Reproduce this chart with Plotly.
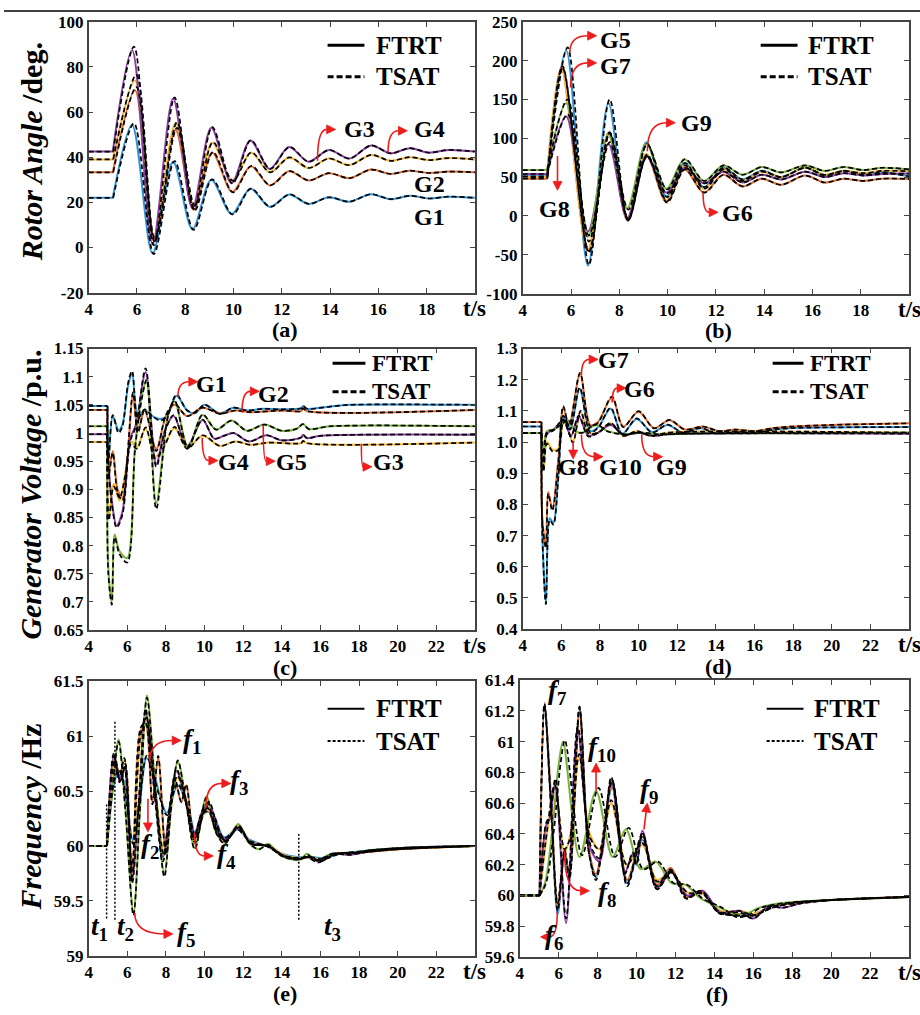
import plotly.graph_objects as go

# ======================= DATA =======================
# ---- (a) rotor angle, G1..G4 ----
t_a = [4, 5.0, 5.8, 6.65, 7.5, 8.3, 9.08, 9.92, 10.7, 11.5, 12.3, 13.1, 13.95, 14.8, 15.7, 16.5, 17.3, 18.1, 18.9, 20]
t_a2 = [4, 5.0, 5.92, 6.7, 7.6, 8.35, 9.12, 9.95, 10.72, 11.5, 12.3, 13.1, 13.95, 14.8, 15.7, 16.5, 17.3, 18.1, 18.9, 20]
t_a_ts = [4, 5.02, 5.88, 6.7, 7.56, 8.35, 9.12, 9.96, 10.72, 11.52, 12.32, 13.12, 13.95, 14.8, 15.7, 16.5, 17.3, 18.1, 18.9, 20]
t_a2_ts = [4, 5.02, 5.98, 6.74, 7.66, 8.4, 9.15, 9.98, 10.74, 11.52, 12.32, 13.12, 13.95, 14.8, 15.7, 16.5, 17.3, 18.1, 18.9, 20]
g1_a = [22, 22, 54.3, -2.6, 38, 8, 30, 14.8, 26, 18, 23.5, 19.3, 22.2, 20.3, 23.6, 21.4, 22.9, 21.7, 22.5, 22]
g2_a = [33.3, 33.3, 69.6, 2.9, 52, 16.7, 42, 24.6, 36, 27.5, 33.8, 29.7, 32.9, 30.7, 34.5, 32.6, 34, 33, 33.6, 33.3]
g3_a = [39, 39, 74, 4.3, 55, 18.8, 46.4, 29.7, 42, 33.3, 39.9, 35.2, 39.4, 36.5, 41, 38.4, 40, 38.7, 39.6, 39]
g4_a = [42.5, 42.5, 87.4, 1.5, 66, 17.4, 53, 28.5, 47.4, 34.8, 44.5, 38, 43.2, 39.4, 45.2, 41.7, 44, 42, 43.2, 42.5]
g1_a_ts = [22, 22, 55, -3, 38.3, 7.8, 30.2, 14.6, 26.1, 18, 23.5, 19.3, 22.2, 20.3, 23.6, 21.4, 22.9, 21.7, 22.5, 22]
g2_a_ts = [33.3, 33.3, 71, 2.5, 53, 16.4, 42.3, 24.4, 36.1, 27.5, 33.8, 29.7, 32.9, 30.7, 34.5, 32.6, 34, 33, 33.6, 33.3]
g3_a_ts = [39, 39, 76.5, 3.8, 55.5, 18.5, 46.6, 29.5, 42.1, 33.3, 39.9, 35.2, 39.4, 36.5, 41, 38.4, 40, 38.7, 39.6, 39]
g4_a_ts = [42.5, 42.5, 89, 1, 66.5, 17, 53.3, 28.3, 47.5, 34.8, 44.5, 38, 43.2, 39.4, 45.2, 41.7, 44, 42, 43.2, 42.5]

# ---- (b) rotor angle, G5..G9 ----
t_b = [4, 5.0, 5.8, 6.7, 7.55, 8.33, 9.12, 9.95, 10.7, 11.5, 12.3, 13.1, 13.9, 14.7, 15.7, 16.5, 17.3, 18.1, 18.9, 20]
t_b2 = [4, 5.0, 5.6, 6.7, 7.55, 8.33, 9.12, 9.95, 10.7, 11.5, 12.3, 13.1, 13.9, 14.7, 15.7, 16.5, 17.3, 18.1, 18.9, 20]
t_b_ts = [4, 5.02, 5.86, 6.74, 7.6, 8.37, 9.15, 9.98, 10.72, 11.52, 12.32, 13.1, 13.9, 14.7, 15.7, 16.5, 17.3, 18.1, 18.9, 20]
t_b2_ts = [4, 5.02, 5.65, 6.74, 7.6, 8.37, 9.15, 9.98, 10.72, 11.52, 12.32, 13.1, 13.9, 14.7, 15.7, 16.5, 17.3, 18.1, 18.9, 20]
g5_b = [51, 51, 213, -64, 145, -5, 95, 25, 68, 37, 62, 47, 58, 50, 62, 52, 58, 53, 56, 51]
g6_b = [48, 48, 191, -45, 107, -5, 78, 18, 60, 30, 53, 38, 48, 40, 52, 43, 48, 45, 48, 47.5]
g7_b = [50, 50, 189, -43, 105, -3, 80, 20, 65, 35, 60, 45, 57, 50, 62, 53, 58, 55, 58, 57.5]
g8_b = [54, 54, 128, -20, 93, -3, 77, 30, 62, 42, 57, 43, 53, 47, 57, 50, 55, 52, 54, 54.5]
g9_b = [59, 59, 145, -27, 105, 10, 93, 35, 73, 45, 65, 53, 63, 56, 65, 58, 63, 59, 62, 60]
g5_b_ts = [51, 51, 217, -63, 150, -6, 93, 24, 68, 37, 62, 47, 58, 50, 62, 52, 58, 53, 56, 51]
g6_b_ts = [48, 48, 193, -47, 108, -6, 77, 17, 60, 30, 53, 38, 48, 40, 52, 43, 48, 45, 48, 47.5]
g7_b_ts = [50, 50, 191, -45, 106, -4, 79, 19, 65, 35, 60, 45, 57, 50, 62, 53, 58, 55, 58, 57.5]
g8_b_ts = [54, 54, 131, -25, 95, -4, 76, 29, 62, 42, 57, 43, 53, 47, 57, 50, 55, 52, 54, 54.5]
g9_b_ts = [59, 59, 150, -33, 107, 8, 92, 34, 73, 45, 65, 53, 63, 56, 65, 58, 63, 59, 62, 60]

# ---- (c) generator voltage, G1..G5 ----
t_c1 = [4, 4.98, 5.02, 5.25, 5.55, 5.75, 6.05, 6.25, 6.55, 6.9, 7.3, 7.7, 8.05, 8.55, 9.1, 9.5, 10.0, 10.8, 11.5, 12.2, 13.0, 14.0, 15.0, 15.1, 15.3, 16.5, 17.5, 24]
g1_c = [1.048, 1.048, 0.948, 1.03, 1.005, 1.015, 1.085, 1.105, 1.03, 1.04, 1.03, 1.025, 1.03, 1.066, 1.04, 1.035, 1.05, 1.035, 1.045, 1.04, 1.043, 1.042, 1.044, 1.048, 1.043, 1.047, 1.05, 1.05]
g1_c_ts = [1.048, 1.048, 0.945, 1.032, 1.0, 1.012, 1.09, 1.11, 1.025, 1.042, 1.03, 1.022, 1.03, 1.068, 1.04, 1.036, 1.05, 1.034, 1.045, 1.04, 1.043, 1.042, 1.044, 1.048, 1.043, 1.047, 1.05, 1.05]
t_c2 = [4, 4.97, 5.02, 5.25, 5.5, 5.75, 6.0, 6.3, 6.55, 6.9, 7.5, 8.0, 8.45, 9.1, 9.9, 10.8, 11.6, 12.4, 14.0, 15.0, 15.1, 15.3, 24]
g2_c = [1.041, 1.041, 0.925, 0.968, 0.9, 0.885, 0.95, 1.068, 1.005, 1.04, 0.972, 1.03, 1.05, 1.03, 1.045, 1.035, 1.04, 1.037, 1.04, 1.039, 1.044, 1.039, 1.041]
g2_c_ts = [1.041, 1.041, 0.92, 0.965, 0.895, 0.88, 0.955, 1.072, 1.0, 1.042, 0.968, 1.032, 1.052, 1.03, 1.045, 1.034, 1.04, 1.037, 1.04, 1.039, 1.044, 1.039, 1.041]
t_c3 = [4, 4.97, 5.05, 5.3, 5.6, 5.9, 6.2, 6.5, 6.95, 7.45, 7.9, 8.45, 9.1, 9.9, 10.8, 11.6, 12.4, 13.3, 15.0, 15.1, 15.3, 24]
g3_c = [0.984, 0.984, 0.85, 0.91, 0.88, 0.93, 0.985, 0.975, 1.008, 0.958, 0.977, 1.009, 0.974, 0.995, 0.977, 0.985, 0.979, 0.983, 0.982, 0.986, 0.982, 0.983]
g3_c_ts = [0.984, 0.984, 0.845, 0.905, 0.885, 0.925, 0.98, 0.972, 1.01, 0.955, 0.975, 1.011, 0.972, 0.996, 0.977, 0.985, 0.979, 0.983, 0.982, 0.986, 0.982, 0.983]
t_c4 = [4, 4.97, 5.02, 5.2, 5.45, 5.75, 6.15, 6.45, 6.95, 7.5, 7.95, 8.4, 9.1, 9.9, 10.5, 11.0, 11.5, 12.3, 13.2, 14.0, 15.0, 15.1, 15.3, 16.0, 24]
g4_c = [0.998, 0.998, 0.95, 0.88, 0.835, 0.86, 0.99, 1.015, 1.108, 0.945, 1.005, 1.03, 0.977, 1.023, 0.99, 0.995, 1.0, 0.985, 0.996, 0.987, 0.992, 0.997, 0.991, 0.995, 0.997]
g4_c_ts = [0.998, 0.998, 0.945, 0.875, 0.832, 0.855, 0.985, 1.012, 1.115, 0.94, 1.003, 1.032, 0.975, 1.024, 0.99, 0.995, 1.0, 0.985, 0.996, 0.987, 0.992, 0.997, 0.991, 0.995, 0.997]
t_c5 = [4, 4.97, 5.02, 5.2, 5.35, 5.6, 6.0, 6.4, 6.75, 7.0, 7.5, 8.1, 8.45, 9.15, 9.9, 10.6, 11.4, 12.2, 13.1, 14.0, 14.8, 15.1, 15.4, 16.5, 24]
g5_c = [1.012, 1.012, 0.76, 0.70, 0.82, 0.79, 0.778, 0.975, 1.065, 1.092, 0.876, 1.03, 1.056, 0.975, 1.032, 1.006, 1.022, 1.004, 1.015, 1.004, 1.008, 1.016, 1.007, 1.012, 1.012]
g5_c_ts = [1.012, 1.012, 0.75, 0.695, 0.815, 0.785, 0.77, 0.97, 1.06, 1.095, 0.865, 1.028, 1.058, 0.973, 1.033, 1.006, 1.022, 1.004, 1.015, 1.004, 1.008, 1.016, 1.007, 1.012, 1.012]

# ---- (d) generator voltage, G6..G10 ----
t_d6 = [4, 4.97, 5.02, 5.2, 5.4, 5.58, 5.85, 6.1, 6.45, 6.95, 7.5, 7.93, 8.55, 9.15, 9.9, 10.7, 11.5, 12.3, 13.2, 14.0, 15.0, 16.0, 17.0, 18.0, 24]
g6_d = [1.05, 1.05, 0.7, 0.485, 0.756, 0.74, 0.9, 1.08, 1.045, 1.171, 1.035, 1.05, 1.107, 1.027, 1.074, 1.032, 1.055, 1.03, 1.045, 1.028, 1.032, 1.03, 1.04, 1.045, 1.048]
g6_d_ts = [1.05, 1.05, 0.69, 0.48, 0.75, 0.735, 0.89, 1.085, 1.04, 1.175, 1.03, 1.048, 1.11, 1.025, 1.076, 1.03, 1.056, 1.03, 1.045, 1.028, 1.032, 1.03, 1.04, 1.045, 1.048]
t_d7 = [4, 4.97, 5.02, 5.2, 5.32, 5.53, 5.85, 6.1, 6.4, 6.97, 7.5, 7.9, 8.62, 9.2, 10.0, 10.8, 11.6, 12.4, 13.3, 14.2, 15.0, 16.0, 17.0, 18.0, 20.0, 24]
g7_d = [1.064, 1.064, 0.75, 0.667, 0.84, 0.787, 0.95, 1.11, 1.055, 1.218, 1.055, 1.065, 1.143, 1.05, 1.097, 1.045, 1.07, 1.04, 1.05, 1.035, 1.04, 1.035, 1.045, 1.05, 1.055, 1.06]
g7_d_ts = [1.064, 1.064, 0.74, 0.66, 0.835, 0.78, 0.94, 1.115, 1.05, 1.222, 1.05, 1.062, 1.146, 1.048, 1.099, 1.044, 1.071, 1.04, 1.05, 1.035, 1.04, 1.035, 1.045, 1.05, 1.055, 1.06]
t_d8 = [4, 4.97, 5.08, 5.25, 5.55, 5.85, 6.1, 6.35, 6.6, 7.0, 7.4, 7.9, 8.55, 9.2, 9.9, 10.6, 11.5, 24]
g8_d = [1.029, 1.029, 0.912, 1.0, 0.975, 0.98, 1.07, 1.04, 1.0, 1.097, 1.03, 1.03, 1.06, 1.02, 1.035, 1.02, 1.03, 1.03]
g8_d_ts = [1.029, 1.029, 0.905, 0.995, 0.97, 0.975, 1.072, 1.038, 0.998, 1.1, 1.028, 1.03, 1.062, 1.02, 1.035, 1.02, 1.03, 1.03]
t_d9 = [4, 4.97, 5.05, 5.25, 5.6, 6.1, 6.5, 6.9, 7.4, 7.9, 8.55, 9.2, 10.0, 10.8, 11.5, 24]
g9_d = [1.029, 1.029, 0.93, 1.028, 1.04, 1.07, 1.02, 1.082, 1.02, 1.03, 1.055, 1.025, 1.03, 1.02, 1.025, 1.027]
g9_d_ts = [1.029, 1.029, 0.92, 1.025, 1.038, 1.072, 1.018, 1.085, 1.018, 1.03, 1.057, 1.024, 1.03, 1.02, 1.025, 1.027]
t_d10 = [4, 4.97, 5.05, 5.25, 5.6, 6.1, 6.35, 6.75, 7.1, 7.8, 8.4, 9.3, 10.2, 11.0, 13.0, 24]
g10_d = [1.029, 1.029, 0.925, 1.035, 1.04, 1.06, 1.07, 1.035, 1.03, 1.055, 1.035, 1.025, 1.03, 1.025, 1.028, 1.03]
g10_d_ts = [1.029, 1.029, 0.92, 1.032, 1.04, 1.062, 1.072, 1.033, 1.03, 1.057, 1.034, 1.025, 1.03, 1.025, 1.028, 1.03]

# ---- (e) frequency, f1..f5 ----
t_e1 = [4, 4.95, 5.3, 5.55, 5.8, 6.3, 6.65, 7.0, 7.4, 7.7, 8.05, 8.6, 9.15, 9.55, 10.0, 10.4, 11.0, 11.7, 12.3, 13.2, 14.0, 14.8, 15.5, 16.2, 17.0, 18.0, 20, 24]
f1_e = [60, 60, 60.55, 60.68, 60.6, 60.05, 60.4, 60.8, 60.65, 60.45, 60.3, 60.55, 60.35, 60.1, 60.3, 60.3, 60.08, 60.15, 60.06, 60.0, 59.93, 59.9, 59.9, 59.89, 59.93, 59.95, 59.98, 60]
f1_e_ts = [60, 60, 60.58, 60.7, 60.58, 60.02, 60.42, 60.82, 60.62, 60.43, 60.28, 60.57, 60.33, 60.08, 60.31, 60.3, 60.07, 60.15, 60.05, 60.0, 59.92, 59.89, 59.9, 59.88, 59.93, 59.95, 59.98, 60]
t_e2 = [4, 4.95, 5.35, 5.65, 5.9, 6.25, 6.7, 6.95, 7.3, 7.6, 8.0, 8.45, 8.8, 9.05, 9.5, 10.1, 10.7, 11.1, 11.75, 12.4, 13.3, 14.1, 14.8, 15.5, 16.0, 16.8, 18.0, 20, 24]
f2_e = [60, 60, 60.8, 60.6, 60.72, 59.75, 61.05, 61.1, 60.4, 60.8, 59.95, 60.6, 60.4, 60.55, 60.05, 60.35, 60.1, 60.05, 60.18, 60.03, 60.0, 59.92, 59.88, 59.9, 59.87, 59.93, 59.94, 59.97, 60]
f2_e_ts = [60, 60, 60.82, 60.58, 60.75, 59.72, 61.08, 61.12, 60.38, 60.82, 59.92, 60.62, 60.4, 60.56, 60.03, 60.36, 60.1, 60.04, 60.18, 60.02, 60.0, 59.91, 59.88, 59.9, 59.86, 59.93, 59.94, 59.97, 60]
t_e3 = [4, 4.95, 5.35, 5.6, 5.85, 6.25, 6.7, 7.0, 7.4, 7.9, 8.3, 8.6, 9.0, 9.45, 9.8, 10.2, 10.7, 11.1, 11.7, 12.4, 13.3, 14.1, 14.9, 15.4, 16.0, 16.8, 18.0, 20, 24]
f3_e = [60, 60, 60.75, 60.65, 60.78, 59.85, 61.0, 61.15, 60.6, 59.95, 60.45, 60.62, 60.45, 60.08, 60.25, 60.33, 60.12, 60.06, 60.17, 60.04, 60.0, 59.92, 59.89, 59.9, 59.88, 59.93, 59.94, 59.97, 60]
f3_e_ts = [60, 60, 60.77, 60.63, 60.8, 59.82, 61.02, 61.17, 60.58, 59.92, 60.46, 60.64, 60.44, 60.06, 60.26, 60.35, 60.12, 60.05, 60.17, 60.03, 60.0, 59.91, 59.89, 59.9, 59.87, 59.93, 59.94, 59.97, 60]
t_e4 = [4, 4.95, 5.3, 5.6, 5.85, 6.25, 6.6, 6.95, 7.35, 7.85, 8.2, 8.55, 9.0, 9.45, 9.9, 10.25, 10.7, 11.1, 11.8, 12.4, 13.3, 14.0, 14.8, 15.3, 15.9, 16.6, 17.5, 18.5, 20, 24]
f4_e = [60, 60, 60.82, 60.6, 60.7, 59.7, 60.4, 61.22, 60.6, 59.9, 60.35, 60.68, 60.45, 60.1, 60.32, 60.38, 60.15, 60.06, 60.17, 60.03, 60.0, 59.92, 59.88, 59.9, 59.86, 59.93, 59.92, 59.95, 59.98, 60]
f4_e_ts = [60, 60, 60.84, 60.58, 60.72, 59.66, 60.42, 61.25, 60.58, 59.86, 60.36, 60.7, 60.44, 60.08, 60.33, 60.4, 60.14, 60.05, 60.17, 60.02, 60.0, 59.91, 59.88, 59.9, 59.85, 59.93, 59.92, 59.95, 59.98, 60]
t_e5 = [4, 4.95, 5.2, 5.55, 5.9, 6.32, 6.65, 7.02, 7.45, 7.92, 8.25, 8.62, 9.05, 9.5, 10.1, 10.6, 11.05, 11.75, 12.3, 12.8, 13.3, 13.9, 14.5, 15.0, 15.3, 15.8, 16.6, 17.5, 18.5, 20, 24]
f5_e = [60, 60, 60.45, 60.97, 60.35, 59.39, 60.3, 61.37, 60.55, 59.75, 60.3, 60.77, 60.4, 59.98, 60.45, 60.12, 60.03, 60.2, 60.03, 59.97, 60.02, 59.92, 59.88, 59.88, 59.93, 59.87, 59.93, 59.93, 59.96, 59.98, 60]
f5_e_ts = [60, 60, 60.47, 60.95, 60.33, 59.37, 60.32, 61.35, 60.52, 59.72, 60.32, 60.78, 60.38, 59.97, 60.44, 60.12, 60.02, 60.19, 60.03, 59.97, 60.01, 59.92, 59.88, 59.88, 59.92, 59.87, 59.93, 59.93, 59.96, 59.98, 60]
# event instants t1, t2, t3 in (e)
t_events = [4.93, 5.36, 14.88]
t_events_top = [60.38, 61.13, 60.11]
t_events_bottom = [59.34, 59.33, 59.33]

# ---- (f) frequency, f6..f10 ----
t_f = [4, 5.02, 5.27, 5.6, 5.95, 6.3, 6.55, 7.07, 7.55, 7.92, 8.75, 9.52, 10.3, 11.05, 11.75, 12.55, 13.3, 14.2, 15.1, 16.0, 17.0, 18.0, 20, 24]
f6_f = [60, 60, 61.22, 60.6, 59.88, 60.25, 60.12, 61.2, 60.3, 60.12, 60.7, 60.08, 60.36, 60.05, 60.17, 59.99, 60.02, 59.9, 59.88, 59.88, 59.93, 59.95, 59.97, 59.99]
f7_f = [60, 60, 61.24, 60.65, 59.93, 60.28, 60.15, 61.18, 60.3, 60.14, 60.72, 60.1, 60.38, 60.07, 60.18, 59.99, 60.03, 59.9, 59.88, 59.88, 59.93, 59.95, 59.97, 59.99]
f6_f_ts = [60, 60, 61.24, 60.58, 59.9, 60.28, 60.1, 61.23, 60.28, 60.1, 60.74, 60.06, 60.38, 60.04, 60.16, 59.98, 60.02, 59.89, 59.87, 59.87, 59.92, 59.95, 59.97, 59.99]
f7_f_ts = [60, 60, 61.25, 60.63, 59.95, 60.3, 60.13, 61.22, 60.28, 60.12, 60.75, 60.08, 60.4, 60.06, 60.17, 59.98, 60.03, 59.89, 59.87, 59.87, 59.92, 59.95, 59.97, 59.99]
t_f8 = [4, 5.02, 5.4, 5.8, 6.3, 6.6, 7.05, 7.6, 8.1, 8.7, 9.5, 10.3, 11.05, 11.8, 12.6, 13.4, 14.3, 15.3, 16.0, 17.0, 18.5, 20, 24]
f8_f = [60, 60, 60.4, 60.7, 60.28, 60.4, 60.9, 60.4, 60.3, 60.6, 60.2, 60.33, 60.1, 60.15, 60.02, 60.01, 59.9, 59.9, 59.88, 59.93, 59.95, 59.97, 59.99]
f8_f_ts = [60, 60, 60.42, 60.72, 60.3, 60.38, 60.92, 60.38, 60.3, 60.62, 60.2, 60.34, 60.09, 60.15, 60.02, 60.01, 59.89, 59.9, 59.87, 59.93, 59.95, 59.97, 59.99]
t_f9 = [4, 5.02, 5.35, 5.55, 5.83, 6.38, 6.98, 7.65, 8.1, 8.7, 9.4, 9.8, 10.0, 10.3, 11.05, 11.8, 12.6, 13.4, 14.3, 15.3, 16.0, 16.8, 17.5, 18.5, 20, 24]
f9_f = [60, 60, 60.45, 60.5, 60.74, 59.82, 61.07, 60.3, 60.22, 60.75, 60.15, 60.27, 60.2, 60.42, 60.05, 60.15, 60.0, 60.03, 59.89, 59.9, 59.85, 59.93, 59.92, 59.95, 59.97, 59.99]
f9_f_ts = [60, 60, 60.47, 60.52, 60.76, 59.85, 61.1, 60.32, 60.24, 60.77, 60.14, 60.28, 60.2, 60.41, 60.04, 60.15, 59.99, 60.02, 59.88, 59.89, 59.85, 59.93, 59.92, 59.95, 59.97, 59.99]
t_f10 = [4, 5.02, 5.3, 5.65, 6.0, 6.22, 7.07, 7.92, 8.77, 9.45, 10.22, 10.98, 11.8, 12.5, 13.3, 14.3, 15.0, 15.6, 16.3, 17.5, 20, 24]
f10_f = [60, 60, 60.08, 60.4, 60.85, 61.0, 60.25, 60.68, 60.25, 60.43, 60.17, 60.22, 60.08, 60.07, 59.98, 59.92, 59.88, 59.88, 59.92, 59.95, 59.97, 59.99]
t_f10_ts = [4, 5.02, 5.35, 5.75, 6.1, 6.32, 7.2, 8.05, 8.9, 9.6, 10.35, 11.1, 11.9, 12.6, 13.4, 14.4, 15.1, 15.7, 16.4, 17.6, 20, 24]
f10_f_ts = [60, 60, 60.08, 60.42, 60.86, 61.01, 60.26, 60.7, 60.25, 60.44, 60.17, 60.22, 60.08, 60.07, 59.98, 59.92, 59.86, 59.87, 59.92, 59.95, 59.97, 59.99]

# ---- tick labels ----
xt_ab = [4, 6, 8, 10, 12, 14, 16, 18]
xt_cf = [4, 6, 8, 10, 12, 14, 16, 18, 20, 22]
yt_a = [-20, 0, 20, 40, 60, 80, 100]
yt_b = [-100, -50, 0, 50, 100, 150, 200, 250]
yt_c = [0.65, 0.7, 0.75, 0.8, 0.85, 0.9, 0.95, 1.0, 1.05, 1.1, 1.15]
ytt_c = ["0.65", "0.7", "0.75", "0.8", "0.85", "0.9", "0.95", "1", "1.05", "1.1", "1.15"]
yt_d = [0.4, 0.5, 0.6, 0.7, 0.8, 0.9, 1.0, 1.1, 1.2, 1.3]
ytt_d = ["0.4", "0.5", "0.6", "0.7", "0.8", "0.9", "1.0", "1.1", "1.2", "1.3"]
yt_e = [59, 59.5, 60, 60.5, 61, 61.5]
ytt_e = ["59", "59.5", "60", "60.5", "61", "61.5"]
yt_f = [59.6, 59.8, 60, 60.2, 60.4, 60.6, 60.8, 61, 61.2, 61.4]
ytt_f = ["59.6", "59.8", "60", "60.2", "60.4", "60.6", "60.8", "61", "61.2", "61.4"]

# ======================= STYLE / LAYOUT =======================
FONT = "Liberation Serif"
W, H = 920, 1015
BLUE, ORANGE, YELLOW, PURPLE, GREEN = "#2f93d4", "#de6b32", "#efb52e", "#8a3ea0", "#79b13a"
RED = "#ee1c1c"


def PX(x):
    return x / W


def PY(y):
    return 1 - y / H


PANELS = {
    'a': dict(n=1, x0=85, x1=473, y0=13, y1=289, xr=[4, 20], yr=[-20, 100], xt=xt_ab, yt=yt_a, ytt=[str(v) for v in yt_a]),
    'b': dict(n=2, x0=521, x1=909, y0=13, y1=290, xr=[4, 20], yr=[-100, 250], xt=xt_ab, yt=yt_b, ytt=[str(v) for v in yt_b]),
    'c': dict(n=3, x0=85, x1=473, y0=346, y1=633, xr=[4, 24], yr=[0.65, 1.15], xt=xt_cf, yt=yt_c, ytt=ytt_c),
    'd': dict(n=4, x0=521, x1=909, y0=346, y1=632, xr=[4, 24], yr=[0.4, 1.3], xt=xt_cf, yt=yt_d, ytt=ytt_d),
    'e': dict(n=5, x0=85, x1=473, y0=685, y1=965, xr=[4, 24], yr=[59, 61.5], xt=xt_cf, yt=yt_e, ytt=ytt_e),
    'f': dict(n=6, x0=518, x1=909, y0=684, y1=966, xr=[4, 24], yr=[59.6, 61.4], xt=xt_cf, yt=yt_f, ytt=ytt_f),
}


def sfx(key):
    n = PANELS[key]['n']
    return '' if n == 1 else str(n)


SERIES = [
    ('a', t_a, g1_a, t_a_ts, g1_a_ts, BLUE),
    ('a', t_a2, g2_a, t_a2_ts, g2_a_ts, ORANGE),
    ('a', t_a2, g3_a, t_a2_ts, g3_a_ts, YELLOW),
    ('a', t_a, g4_a, t_a_ts, g4_a_ts, PURPLE),
    ('b', t_b, g5_b, t_b_ts, g5_b_ts, BLUE),
    ('b', t_b2, g6_b, t_b2_ts, g6_b_ts, ORANGE),
    ('b', t_b2, g7_b, t_b2_ts, g7_b_ts, YELLOW),
    ('b', t_b, g8_b, t_b_ts, g8_b_ts, PURPLE),
    ('b', t_b, g9_b, t_b_ts, g9_b_ts, GREEN),
    ('c', t_c1, g1_c, t_c1, g1_c_ts, BLUE),
    ('c', t_c2, g2_c, t_c2, g2_c_ts, ORANGE),
    ('c', t_c3, g3_c, t_c3, g3_c_ts, YELLOW),
    ('c', t_c4, g4_c, t_c4, g4_c_ts, PURPLE),
    ('c', t_c5, g5_c, t_c5, g5_c_ts, GREEN),
    ('d', t_d6, g6_d, t_d6, g6_d_ts, BLUE),
    ('d', t_d7, g7_d, t_d7, g7_d_ts, ORANGE),
    ('d', t_d8, g8_d, t_d8, g8_d_ts, YELLOW),
    ('d', t_d9, g9_d, t_d9, g9_d_ts, PURPLE),
    ('d', t_d10, g10_d, t_d10, g10_d_ts, GREEN),
    ('e', t_e1, f1_e, t_e1, f1_e_ts, BLUE),
    ('e', t_e2, f2_e, t_e2, f2_e_ts, ORANGE),
    ('e', t_e3, f3_e, t_e3, f3_e_ts, YELLOW),
    ('e', t_e4, f4_e, t_e4, f4_e_ts, PURPLE),
    ('e', t_e5, f5_e, t_e5, f5_e_ts, GREEN),
    ('f', t_f, f6_f, t_f, f6_f_ts, BLUE),
    ('f', t_f, f7_f, t_f, f7_f_ts, ORANGE),
    ('f', t_f8, f8_f, t_f8, f8_f_ts, YELLOW),
    ('f', t_f9, f9_f, t_f9, f9_f_ts, PURPLE),
    ('f', t_f10, f10_f, t_f10_ts, f10_f_ts, GREEN),
]

fig = go.Figure()


def add_curve(key, tt, vv, line):
    """Flat pre-disturbance part (first two samples) drawn straight, the rest as a smooth spline."""
    s = sfx(key)
    pre = dict(line)
    pre['shape'] = 'linear'
    fig.add_trace(go.Scatter(x=tt[:2], y=vv[:2], xaxis='x' + s, yaxis='y' + s, mode='lines',
                             line=pre, showlegend=False, hoverinfo='skip'))
    post = dict(line)
    post['shape'] = 'spline'
    post['smoothing'] = 0.9
    fig.add_trace(go.Scatter(x=tt[1:], y=vv[1:], xaxis='x' + s, yaxis='y' + s, mode='lines',
                             line=post, showlegend=False, hoverinfo='skip'))


# FTRT (coloured, solid) first
for key, tt, vv, tts, vts, col in SERIES:
    add_curve(key, tt, vv, dict(color=col, width=2))
# TSAT (black, dashed) on top
for key, tt, vv, tts, vts, col in SERIES:
    add_curve(key, tts, vts, dict(color='black', width=1.7, dash='5px,3px'))

# event markers t1,t2,t3 in (e)
for te, top, bot in zip(t_events, t_events_top, t_events_bottom):
    fig.add_trace(go.Scatter(x=[te, te], y=[bot, top], xaxis='x5', yaxis='y5', mode='lines',
                             line=dict(color='black', width=1.5, dash='2px,2px'),
                             showlegend=False, hoverinfo='skip'))

tickfont = dict(family=FONT, size=17, color='black')
common = dict(showline=True, mirror='allticks', ticks='inside', ticklen=5, tickwidth=1.2,
              tickcolor='#444', linecolor='#444', linewidth=1.6, showgrid=False, zeroline=False,
              tickfont=tickfont, fixedrange=True)
axes = {}
for key, p in PANELS.items():
    s = sfx(key)
    axes['xaxis' + s] = dict(domain=[PX(p['x0']), PX(p['x1'])], range=p['xr'], anchor='y' + s,
                             tickmode='array', tickvals=p['xt'],
                             ticktext=['<b>%s</b>' % v for v in p['xt']], **common)
    axes['yaxis' + s] = dict(domain=[PY(p['y1']), PY(p['y0'])], range=p['yr'], anchor='x' + s,
                             tickmode='array', tickvals=p['yt'],
                             ticktext=['<b>%s</b>' % v for v in p['ytt']], **common)

ann = []
shapes = []

# top rule
shapes.append(dict(type='line', xref='paper', yref='paper', x0=0, x1=1, y0=PY(2), y1=PY(2),
                   line=dict(color='black', width=1.5)))

# y-axis titles
for text, yc in [("<b><i>Rotor Angle</i> /deg.</b>", 145),
                 ("<b><i>Generator Voltage</i> /p.u.</b>", 495),
                 ("<b><i>Frequency</i> /Hz</b>", 823)]:
    ann.append(dict(xref='paper', yref='paper', x=PX(27), y=PY(yc), text=text, textangle=-90,
                    showarrow=False, xanchor='center', yanchor='middle',
                    font=dict(family=FONT, size=30, color='black')))

# panel captions and t/s
for key, p in PANELS.items():
    cx = (p['x0'] + p['x1']) / 2
    ann.append(dict(xref='paper', yref='paper', x=PX(cx + 3), y=PY(p['y1'] + 38), text='<b>(%s)</b>' % key,
                    showarrow=False, xanchor='center', yanchor='middle',
                    font=dict(family=FONT, size=22, color='black')))
    ann.append(dict(xref='paper', yref='paper', x=PX(p['x1']), y=PY(p['y1'] + 16), text='<b>t/s</b>',
                    showarrow=False, xanchor='center', yanchor='middle',
                    font=dict(family=FONT, size=23, color='black')))

# manual legends: (line x0, x1, y FTRT, y TSAT, text x, width, dash TSAT, font size)
LEG = [
    (325, 362, 37, 69, 372, 3, '6px,3px', 25),
    (760, 797, 37, 69, 806, 3, '6px,3px', 25),
    (330, 363, 361, 390, 368, 3, '6px,3px', 23),
    (772, 803, 361, 390, 808, 3, '6px,3px', 23),
    (325, 362, 713, 746, 372, 2, '3px,2px', 25),
    (766, 803, 713, 746, 812, 2, '3px,2px', 25),
]
for x0, x1, yf, yt, tx, lw, d2, fs in LEG:
    shapes.append(dict(type='line', xref='paper', yref='paper', x0=PX(x0), x1=PX(x1), y0=PY(yf), y1=PY(yf),
                       line=dict(color='black', width=lw)))
    shapes.append(dict(type='line', xref='paper', yref='paper', x0=PX(x0), x1=PX(x1), y0=PY(yt), y1=PY(yt),
                       line=dict(color='black', width=lw, dash=d2)))
    for txt, yy in [('FTRT', yf), ('TSAT', yt)]:
        ann.append(dict(xref='paper', yref='paper', x=PX(tx), y=PY(yy), text='<b>%s</b>' % txt,
                        showarrow=False, xanchor='left', yanchor='middle',
                        font=dict(family=FONT, size=fs, color='black')))

# curve labels (panel, text, t, value)
LABELS = [
    ('a', 'G3', 15.2, 52.7), ('a', 'G4', 18.1, 52.7), ('a', 'G2', 18.1, 28.3), ('a', 'G1', 18.1, 13.6),
    ('b', 'G5', 7.84, 226), ('b', 'G7', 7.84, 193), ('b', 'G9', 11.19, 120), ('b', 'G8', 5.31, 8.8),
    ('b', 'G6', 12.88, 3.7),
    ('c', 'G1', 10.34, 1.087), ('c', 'G2', 13.57, 1.069), ('c', 'G4', 11.5, 0.949), ('c', 'G5', 14.5, 0.949),
    ('c', 'G3', 19.55, 0.949),
    ('d', 'G7', 8.68, 1.264), ('d', 'G6', 10.07, 1.17), ('d', 'G8', 6.62, 0.921), ('d', 'G10', 9.04, 0.921),
    ('d', 'G9', 11.72, 0.921),
    ('e', '<i>f</i><sub>1</sub>', 9.34, 60.96), ('e', '<i>f</i><sub>2</sub>', 7.17, 60.0),
    ('e', '<i>f</i><sub>3</sub>', 11.8, 60.58), ('e', '<i>f</i><sub>4</sub>', 11.14, 59.91),
    ('e', '<i>f</i><sub>5</sub>', 9.03, 59.2),
    ('e', '<i>t</i><sub>1</sub>', 4.56, 59.25), ('e', '<i>t</i><sub>2</sub>', 5.9, 59.25),
    ('e', '<i>t</i><sub>3</sub>', 16.64, 59.25),
    ('f', '<i>f</i><sub>7</sub>', 5.93, 61.32), ('f', '<i>f</i><sub>10</sub>', 8.22, 60.95),
    ('f', '<i>f</i><sub>9</sub>', 10.62, 60.68), ('f', '<i>f</i><sub>8</sub>', 8.48, 60.01),
    ('f', '<i>f</i><sub>6</sub>', 5.77, 59.73),
]
for key, txt, tx, vy in LABELS:
    s = sfx(key)
    big = txt.startswith('<i>')
    ann.append(dict(xref='x' + s, yref='y' + s, x=tx, y=vy, text='<b>%s</b>' % txt, showarrow=False,
                    xanchor='center', yanchor='middle',
                    font=dict(family=FONT, size=27 if big else 24, color='black')))

# red pointer arrows (panel, tail, head, kind)
ARROWS = [
    ('a', (13.48, 38.4), (14.23, 52.3), 'elbow'),
    ('a', (16.4, 42), (17.2, 51.7), 'elbow'),
    ('b', (5.95, 210), (7.06, 232), 'elbow'),
    ('b', (5.98, 165.5), (7.06, 197), 'elbow'),
    ('b', (9.16, 83.4), (10.32, 120), 'elbow'),
    ('b', (5.44, 77), (5.44, 33), 'straight'),
    ('b', (11.47, 30), (12.09, 4.6), 'elbow'),
    ('c', (8.62, 1.064), (9.65, 1.091), 'elbow'),
    ('c', (11.94, 1.036), (12.83, 1.074), 'elbow'),
    ('c', (9.88, 0.9915), (10.69, 0.951), 'elbow'),
    ('c', (13.04, 1.013), (13.66, 0.95), 'elbow'),
    ('c', (18.12, 0.981), (18.67, 0.94), 'elbow'),
    ('d', (7.04, 1.215), (7.9, 1.265), 'elbow'),
    ('d', (8.63, 1.127), (9.35, 1.173), 'elbow'),
    ('d', (6.61, 1.003), (6.61, 0.946), 'straight'),
    ('d', (7.04, 1.024), (8.15, 0.953), 'elbow'),
    ('d', (10.16, 1.024), (11.24, 0.953), 'elbow'),
    ('e', (7.16, 60.77), (8.79, 60.96), 'elbow'),
    ('e', (7.07, 60.43), (7.07, 60.13), 'straight'),
    ('e', (10.07, 60.35), (11.36, 60.57), 'elbow'),
    ('e', (9.48, 60.12), (10.45, 59.91), 'elbow'),
    ('e', (6.39, 59.39), (8.36, 59.2), 'elbow'),
    ('f', (7.92, 60.68), (7.92, 60.86), 'straight'),
    ('f', (10.38, 60.43), (10.55, 60.6), 'straight'),
    ('f', (6.3, 60.29), (7.58, 60.03), 'elbow'),
    ('f', (5.93, 59.9), (5.07, 59.73), 'elbow'),
]
HEAD_LEN, HEAD_HALF = 9.0, 4.5   # arrowhead size in pixels
for key, (x0, y0), (x1, y1), kind in ARROWS:
    p = PANELS[key]
    s = sfx(key)
    sx = (p['x1'] - p['x0']) / (p['xr'][1] - p['xr'][0])   # px per data unit
    sy = (p['y1'] - p['y0']) / (p['yr'][1] - p['yr'][0])
    if kind == 'elbow':
        cx, cy = x0, y1
    else:
        cx, cy = x0, y0
    dx = (x1 - cx) * sx
    dy = (y1 - cy) * sy
    L = (dx * dx + dy * dy) ** 0.5
    if L < 1e-9:
        dx, dy = (x1 - x0) * sx, (y1 - y0) * sy
        L = (dx * dx + dy * dy) ** 0.5
    ux, uy = dx / L, dy / L          # unit direction (pixel scale, y up)
    # base of the arrowhead
    bx = x1 - ux * HEAD_LEN / sx
    by = y1 - uy * HEAD_LEN / sy
    if kind == 'elbow':
        path = 'M %g,%g Q %g,%g %g,%g' % (x0, y0, cx, cy, bx, by)
    else:
        path = 'M %g,%g L %g,%g' % (x0, y0, bx, by)
    shapes.append(dict(type='path', xref='x' + s, yref='y' + s, path=path,
                       line=dict(color=RED, width=1.6)))
    px_, py_ = -uy, ux               # perpendicular
    l1 = (bx + px_ * HEAD_HALF / sx, by + py_ * HEAD_HALF / sy)
    l2 = (bx - px_ * HEAD_HALF / sx, by - py_ * HEAD_HALF / sy)
    tri = 'M %g,%g L %g,%g L %g,%g Z' % (x1, y1, l1[0], l1[1], l2[0], l2[1])
    shapes.append(dict(type='path', xref='x' + s, yref='y' + s, path=tri,
                       fillcolor=RED, line=dict(color=RED, width=0.8)))

fig.update_layout(width=W, height=H, margin=dict(l=0, r=0, t=0, b=0), autosize=False,
                  paper_bgcolor='white', plot_bgcolor='white', showlegend=False,
                  font=dict(family=FONT, color='black'),
                  annotations=ann, shapes=shapes, **axes)

fig.write_html("out.html")
